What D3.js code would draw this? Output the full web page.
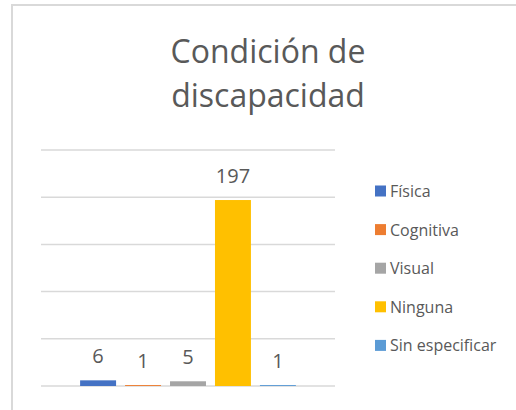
<!DOCTYPE html>
<html>
<head>
<meta charset="utf-8">
<script src="https://cdn.jsdelivr.net/npm/d3@7"></script>
<style>
  body { margin: 0; background: #fff; }
  text { font-family: "Open Sans", sans-serif; fill: #595959; }
</style>
</head>
<body>
<svg id="chart" width="516" height="410"></svg>
<script>
// data
var series = ['Física', 'Cognitiva', 'Visual', 'Ninguna', 'Sin especificar']
var values = [6, 1, 5, 197, 1]
var colors = ['#4472C4', '#ED7D31', '#A5A5A5', '#FFC000', '#5B9BD5']
var yTicks = [0, 50, 100, 150, 200, 250]
var titleLines = ['Condición de', 'discapacidad']

var svg = d3.select('#chart')

// chart frame (runs off the right and bottom edges)
svg.append('rect')
  .attr('x', 12).attr('y', 5)
  .attr('width', 600).attr('height', 500)
  .attr('fill', '#fff')
  .attr('stroke', '#d9d9d9')
  .attr('stroke-width', 2)

// title
svg.append('g').selectAll('text')
  .data(titleLines)
  .enter().append('text')
  .attr('x', 268)
  .attr('y', function(d, i){ return 63 + i * 44 })
  .attr('text-anchor', 'middle')
  .attr('font-size', 32)
  .text(function(d){ return d })

// scales
var x = d3.scaleBand()
  .domain(series)
  .range([41, 335])
  .paddingInner(0.2)
  .paddingOuter(0.87)

var y = d3.scaleLinear()
  .domain([0, 250])
  .range([386, 150])

// gridlines
svg.append('g').selectAll('line')
  .data(yTicks)
  .enter().append('line')
  .attr('x1', 41).attr('x2', 335)
  .attr('y1', function(d){ return y(d) })
  .attr('y2', function(d){ return y(d) })
  .attr('stroke', '#d9d9d9')
  .attr('stroke-width', 1.5)

// bars
svg.append('g').selectAll('rect')
  .data(values)
  .enter().append('rect')
  .attr('x', function(d, i){ return x(series[i]) })
  .attr('width', x.bandwidth())
  .attr('y', function(d){ return y(d) })
  .attr('height', function(d){ return y(0) - y(d) })
  .attr('fill', function(d, i){ return colors[i] })

// value labels
svg.append('g').selectAll('text')
  .data(values)
  .enter().append('text')
  .attr('x', function(d, i){ return x(series[i]) + x.bandwidth() / 2 })
  .attr('y', function(d){ return y(d) - 17 })
  .attr('text-anchor', 'middle')
  .attr('font-size', 20)
  .text(function(d){ return d })

// legend
var legend = svg.append('g').selectAll('g')
  .data(series)
  .enter().append('g')
  .attr('transform', function(d, i){ return 'translate(375,' + (191 + i * 38.6) + ')' })

legend.append('rect')
  .attr('x', 0).attr('y', -5.5)
  .attr('width', 11).attr('height', 11)
  .attr('fill', function(d, i){ return colors[i] })

legend.append('text')
  .attr('x', 15)
  .attr('y', 6)
  .attr('font-size', 16)
  .text(function(d){ return d })
</script>
</body>
</html>
